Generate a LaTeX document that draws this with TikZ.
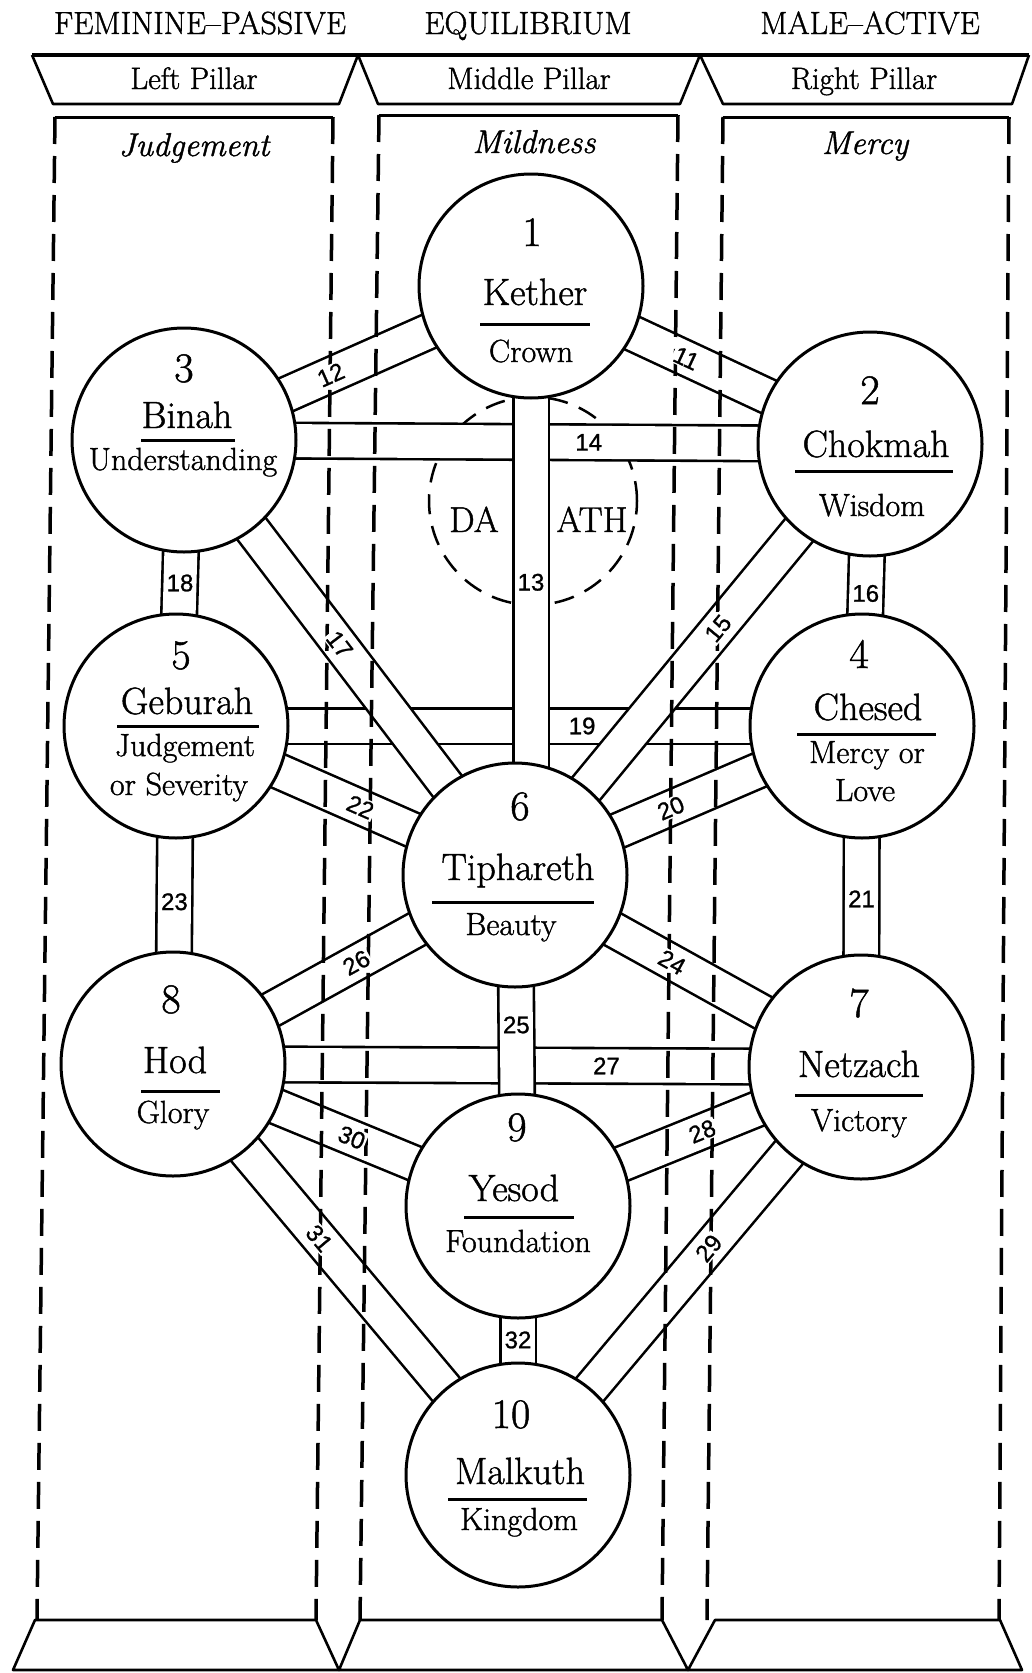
\documentclass[tikz,border=0pt]{standalone}
\usepackage{fontspec}
\setmainfont{Latin Modern Roman}[FakeBold=1.2]
\setsansfont{Liberation Sans}[FakeBold=1]
\usepackage{tikz}
\usetikzlibrary{calc}
\pgfdeclarelayer{background}
\pgfsetlayers{background,main}
\tikzstyle{sephira}=[draw,circle,line width=3pt,fill=white,minimum size=224pt,inner sep=0pt]
\tikzstyle{band}=[double=white,double distance=33pt,line width=2.6pt]
\tikzstyle{pathno}=[font=\sffamily\fontsize{24}{24}\selectfont,inner sep=1.5pt,fill=white]
\tikzstyle{numtext}=[anchor=base,font=\fontsize{42}{42}\selectfont,inner sep=0pt]
\tikzstyle{nametext}=[anchor=base,font=\fontsize{38}{38}\selectfont,inner sep=0pt]
\tikzstyle{subtext}=[anchor=base,font=\fontsize{32}{32}\selectfont,inner sep=0pt]
\tikzstyle{headtext}=[anchor=base,font=\fontsize{32}{32}\selectfont,inner sep=0pt]
\tikzstyle{pillartext}=[anchor=base,font=\fontsize{31}{31}\selectfont,inner sep=0pt]
\tikzstyle{virtue}=[anchor=base,font=\itshape\fontsize{33}{33}\selectfont,inner sep=0pt]
\tikzstyle{pillar}=[line width=3.5pt,dash pattern=on 27pt off 12pt]
\tikzstyle{namerule}=[line width=3pt]
\tikzstyle{trap}=[line width=2.6pt,line join=round]

\begin{document}
\begin{tikzpicture}[x=1pt,y=-1pt]
\useasboundingbox (0,0) rectangle (1031,1673);

\node[headtext] (fem) at (200,34) {FEMININE--PASSIVE};
\node[headtext] (equ) at (528,34) {EQUILIBRIUM};
\node[headtext] (mal) at (870,34) {MALE--ACTIVE};

\draw[line width=3.5pt] (32,55) -- (1029,55);
\draw[trap] (32,55) -- (53,104) -- (339,104) -- (358,55);
\draw[trap] (358,55) -- (378,104) -- (680,104) -- (700,55);
\draw[trap] (700,55) -- (723,104) -- (1012,104) -- (1029,55);
\node[pillartext] (lp) at (194,89) {Left Pillar};
\node[pillartext] (mp) at (529,89) {Middle Pillar};
\node[pillartext] (rp) at (864,89) {Right Pillar};

\draw[namerule] (55,117) -- (333,117);
\draw[namerule] (379,115) -- (678,115);
\draw[namerule] (723,117) -- (1009,117);
\node[virtue] (judg) at (194,156) {Judgement};
\node[virtue] (mild) at (534,153) {Mildness};
\node[virtue] (merc) at (865,154) {Mercy};

\draw[pillar] (55,117) -- (37,1620);
\draw[pillar] (333,117) -- (316,1620);
\draw[pillar] (379,115) -- (360,1620);
\draw[pillar] (678,115) -- (662,1620);
\draw[pillar] (723,117) -- (707,1620);
\draw[pillar] (1009,117) -- (999,1620);

\draw[trap] (35,1620) -- (316,1620) -- (339,1670) -- (13,1670) -- cycle;
\draw[trap] (360,1620) -- (662,1620) -- (688,1670) -- (339,1670) -- cycle;
\draw[trap] (715,1620) -- (1000,1620) -- (1022,1670) -- (688,1670) -- cycle;

\node[sephira] (kether) at (531,286) {};
\node[sephira] (chokmah) at (870,444) {};
\node[sephira] (binah) at (184,440) {};
\node[sephira] (chesed) at (862,726) {};
\node[sephira] (geburah) at (176,726) {};
\node[sephira] (tiphareth) at (515,875) {};
\node[sephira] (netzach) at (861,1067) {};
\node[sephira] (hod) at (173,1064) {};
\node[sephira] (yesod) at (518,1206) {};
\node[sephira] (malkuth) at (518,1475) {};

\begin{pgfonlayer}{background}
\node[circle,draw,line width=2.5pt,dash pattern=on 20pt off 12pt,minimum size=208pt] (daath) at (533,501) {};
\draw[band] (binah.center) -- (chokmah.center);
\draw[band] (geburah.center) -- (chesed.center);
\draw[band] (hod.center) -- (netzach.center);
\draw[band] (kether.center) -- (kether |- tiphareth);
\draw[band] (kether.center) -- (chokmah.center);
\draw[band] (kether.center) -- (binah.center);
\draw[band] (binah.center) -- (geburah.center);
\draw[band] (binah.center) -- (tiphareth.center);
\draw[band] (chokmah.center) -- (chesed.center);
\draw[band] (chokmah.center) -- (tiphareth.center);
\draw[band] (geburah.center) -- (tiphareth.center);
\draw[band] (chesed.center) -- (tiphareth.center);
\draw[band] (geburah.center) -- (hod.center);
\draw[band] (chesed.center) -- (netzach.center);
\draw[band] (tiphareth.center) -- (hod.center);
\draw[band] (tiphareth.center) -- (netzach.center);
\draw[band] (tiphareth.center) -- (yesod.center);
\draw[band] (hod.center) -- (yesod.center);
\draw[band] (netzach.center) -- (yesod.center);
\draw[band] (hod.center) -- (malkuth.center);
\draw[band] (netzach.center) -- (malkuth.center);
\draw[band] (yesod.center) -- (malkuth.center);
\end{pgfonlayer}

\node[nametext,font=\fontsize{36}{36}\selectfont] (da) at (474,532) {DA};
\node[nametext,font=\fontsize{36}{36}\selectfont] (ath) at (592,532) {ATH};

\path (kether.center) -- (chokmah.center) node[pathno,sloped,pos=0.458] (p11) {11};
\path (binah.center) -- (kether.center) node[pathno,sloped,pos=0.423] (p12) {12};
\path (kether.center) -- (kether |- tiphareth) node[pathno,pos=0.503] (p13) {13};
\path (binah.center) -- (chokmah.center) node[pathno,pos=0.59] (p14) {14};
\path (chokmah.center) -- (tiphareth.center) node[pathno,sloped,pos=0.428] (p15) {15};
\path (chokmah.center) -- (chesed.center) node[pathno,pos=0.53] (p16) {16};
\path (binah.center) -- (tiphareth.center) node[pathno,sloped,pos=0.47] (p17) {17};
\path (binah.center) -- (geburah.center) node[pathno,pos=0.5] (p18) {18};
\path (geburah.center) -- (chesed.center) node[pathno,pos=0.592] (p19) {19};
\path (tiphareth.center) -- (chesed.center) node[pathno,sloped,pos=0.449] (p20) {20};
\path (chesed.center) -- (netzach.center) node[pathno,pos=0.507] (p21) {21};
\path (geburah.center) -- (tiphareth.center) node[pathno,sloped,pos=0.544] (p22) {22};
\path (geburah.center) -- (hod.center) node[pathno,pos=0.52] (p23) {23};
\path (tiphareth.center) -- (netzach.center) node[pathno,sloped,pos=0.454] (p24) {24};
\path (tiphareth.center) -- (yesod.center) node[pathno,pos=0.453] (p25) {25};
\path (hod.center) -- (tiphareth.center) node[pathno,sloped,pos=0.536] (p26) {26};
\path (hod.center) -- (netzach.center) node[pathno,pos=0.63] (p27) {27};
\path (yesod.center) -- (netzach.center) node[pathno,sloped,pos=0.537] (p28) {28};
\path (malkuth.center) -- (netzach.center) node[pathno,sloped,pos=0.556] (p29) {29};
\path (hod.center) -- (yesod.center) node[pathno,sloped,pos=0.518] (p30) {30};
\path (hod.center) -- (malkuth.center) node[pathno,sloped,pos=0.424] (p31) {31};
\path (yesod.center) -- (malkuth.center) node[pathno,pos=0.498] (p32) {32};

\node[numtext] (num1) at (532,246) {1};
\node[nametext] (name1) at (535,305) {Kether};
\draw[namerule] (480,324) -- (590,324);
\node[subtext] (sub1) at (531,362) {Crown};

\node[numtext] (num2) at (870,404) {2};
\node[nametext] (name2) at (876,457) {Chokmah};
\draw[namerule] (795,471) -- (953,471);
\node[subtext] (sub2) at (872,516) {Wisdom};

\node[numtext] (num3) at (184,382) {3};
\node[nametext] (name3) at (187,428) {Binah};
\draw[namerule] (141,440) -- (235,440);
\node[subtext] (sub3) at (183,470) {Understanding};

\node[numtext] (num4) at (859,668) {4};
\node[nametext] (name4) at (868,720) {Chesed};
\draw[namerule] (797,734) -- (936,734);
\node[subtext] (sub4) at (867,763) {Mercy or};
\node[subtext] (sub4b) at (865,801) {Love};

\node[numtext] (num5) at (181,669) {5};
\node[nametext] (name5) at (187,714) {Geburah};
\draw[namerule] (117,726) -- (259,726);
\node[subtext] (sub5) at (185,756) {Judgement};
\node[subtext] (sub5b) at (179,795) {or Severity};

\node[numtext] (num6) at (520,820) {6};
\node[nametext] (name6) at (518,880) {Tiphareth};
\draw[namerule] (432,902) -- (594,902);
\node[subtext] (sub6) at (511,935) {Beauty};

\node[numtext] (num7) at (859,1017) {7};
\node[nametext] (name7) at (859,1077) {Netzach};
\draw[namerule] (795,1095) -- (923,1095);
\node[subtext] (sub7) at (859,1131) {Victory};

\node[numtext] (num8) at (171,1013) {8};
\node[nametext] (name8) at (175,1073) {Hod};
\draw[namerule] (141,1091) -- (220,1091);
\node[subtext] (sub8) at (173,1123) {Glory};

\node[numtext] (num9) at (517,1141) {9};
\node[nametext] (name9) at (514,1201) {Yesod};
\draw[namerule] (464,1217) -- (574,1217);
\node[subtext] (sub9) at (518,1252) {Foundation};

\node[numtext] (num10) at (511,1428) {10};
\node[nametext] (name10) at (520,1484) {Malkuth};
\draw[namerule] (448,1499) -- (587,1499);
\node[subtext] (sub10) at (519,1530) {Kingdom};
\end{tikzpicture}
\end{document}
